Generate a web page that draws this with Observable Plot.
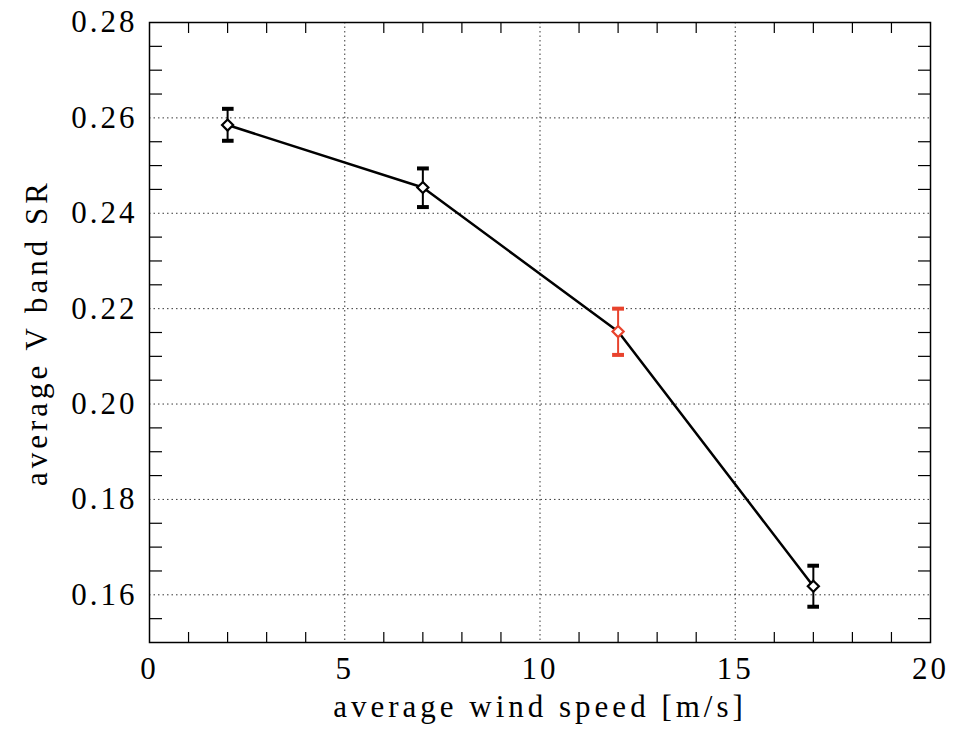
<!DOCTYPE html>
<html>
<head>
<meta charset="utf-8">
<script src="https://cdn.jsdelivr.net/npm/d3@7"></script>
<script src="https://cdn.jsdelivr.net/npm/@observablehq/plot@0.6"></script>
<style>
  html, body { margin: 0; padding: 0; background: #fff; }
  #chart svg, #chart svg text { font-family: "Liberation Serif", "DejaVu Serif", serif !important; }
  #chart svg text { letter-spacing: 3px; }
  #chart svg g[aria-label="x-axis label"] text,
  #chart svg g[aria-label="y-axis label"] text { letter-spacing: 4px; }
</style>
</head>
<body>
<div id="chart"></div>
<script>
// Data
const windSpeed = [2, 7, 12, 17];
const meanSR    = [0.2585, 0.2454, 0.2152, 0.1618];
const srLow     = [0.2552, 0.2413, 0.2103, 0.1575];
const srHigh    = [0.2619, 0.2494, 0.2200, 0.1661];
const highlight = [false, false, true, false];

const xMajor = [0, 5, 10, 15, 20];
const yMajor = [0.16, 0.18, 0.20, 0.22, 0.24, 0.26, 0.28];
const xMinor = d3.range(1, 20, 1).filter(v => v % 5 !== 0);
const yMinor = d3.range(0.155, 0.2801, 0.005)
  .map(v => +v.toFixed(3))
  .filter(v => Math.round(v * 1000) % 20 !== 0);

const data = windSpeed.map((x, i) => ({
  x, y: meanSR[i], lo: srLow[i], hi: srHigh[i], hl: highlight[i]
}));
const black = data.filter(d => !d.hl);
const red = data.filter(d => d.hl);
const RED = "#e8432d";

const chart = Plot.plot({
  width: 960,
  height: 736,
  marginLeft: 149,
  marginRight: 30,
  marginTop: 22,
  marginBottom: 94,
  style: { fontFamily: "Liberation Serif", fontSize: "31px", color: "black", background: "white" },
  x: { domain: [0, 20] },
  y: { domain: [0.15, 0.28] },
  marks: [
    Plot.gridX(xMajor, { stroke: "#222", strokeOpacity: 0.9, strokeDasharray: "1.5,3", strokeWidth: 1 }),
    Plot.gridY(yMajor, { stroke: "#222", strokeOpacity: 0.9, strokeDasharray: "1.5,3", strokeWidth: 1 }),
    // minor ticks inside frame on all four sides
    Plot.axisX(xMinor, { anchor: "bottom", tickSize: -10, text: null, label: null, strokeWidth: 1.2 }),
    Plot.axisX(xMinor, { anchor: "top", tickSize: -10, text: null, label: null, strokeWidth: 1.2 }),
    Plot.axisY(yMinor, { anchor: "left", tickSize: -13, text: null, label: null, strokeWidth: 1.2 }),
    Plot.axisY(yMinor, { anchor: "right", tickSize: -13, text: null, label: null, strokeWidth: 1.2 }),
    // labelled axes
    Plot.axisX(xMajor, {
      anchor: "bottom", tickSize: 0, tickPadding: 14, tickFormat: d3.format("d"),
      label: "average wind speed [m/s]", labelAnchor: "center", labelOffset: 74, labelArrow: "none"
    }),
    Plot.axisY(yMajor, {
      anchor: "left", tickSize: 0, tickPadding: 12, tickFormat: d3.format(".2f"),
      label: "average V band SR", labelAnchor: "center", labelOffset: 125, labelArrow: "none"
    }),
    Plot.frame({ stroke: "black", strokeWidth: 1.5 }),
    Plot.line(data, { x: "x", y: "y", stroke: "black", strokeWidth: 2.5 }),
    Plot.link(black, { x1: "x", x2: "x", y1: "lo", y2: "hi", stroke: "black", strokeWidth: 2, marker: "tick" }),
    Plot.link(red, { x1: "x", x2: "x", y1: "lo", y2: "hi", stroke: RED, strokeWidth: 2, marker: "tick" }),
    Plot.dot(black, { x: "x", y: "y", symbol: "diamond2", r: 5, stroke: "black", strokeWidth: 2.2, fill: "white" }),
    Plot.dot(red, { x: "x", y: "y", symbol: "diamond2", r: 5, stroke: RED, strokeWidth: 2.2, fill: "white" })
  ]
});
document.getElementById("chart").appendChild(chart);
</script>
</body>
</html>
